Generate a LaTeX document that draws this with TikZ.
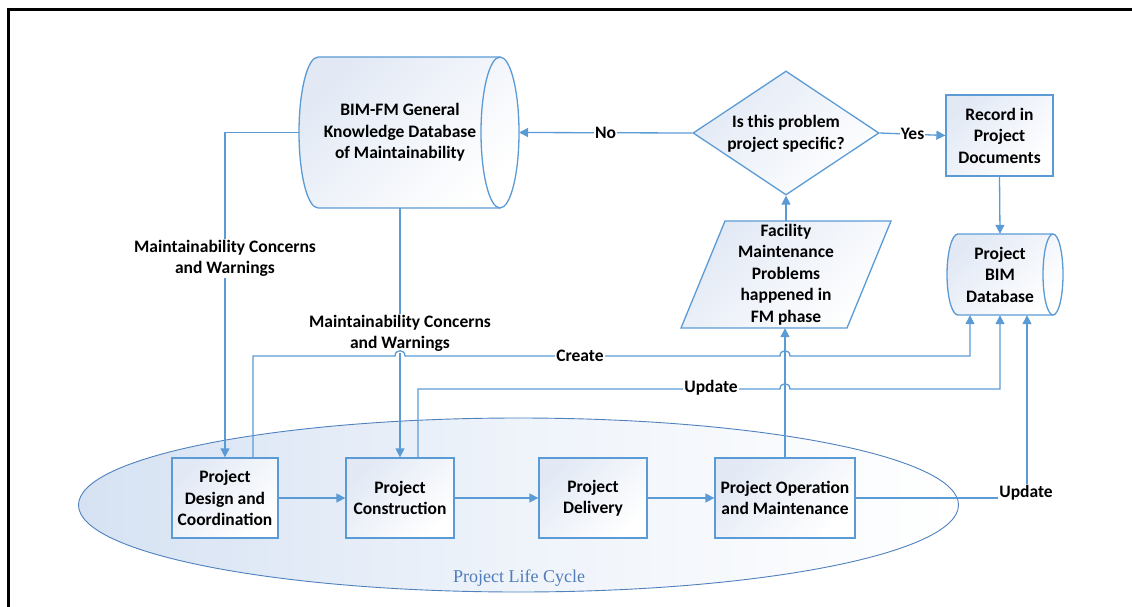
\documentclass[tikz,border=0pt]{standalone}
\usepackage{fontspec}
\setmainfont{Carlito}
\newfontfamily\plcfont{Liberation Serif}
\usetikzlibrary{arrows.meta,shapes.geometric,calc}
\definecolor{lc}{RGB}{91,155,213}
\definecolor{ec}{RGB}{79,129,189}
\definecolor{boxL}{RGB}{226,233,245}
\definecolor{ellL}{RGB}{214,226,243}
\definecolor{plc}{RGB}{80,124,187}
\begin{document}
\begin{tikzpicture}[x=1pt,y=-1pt,
  txt/.style={font=\fontsize{17.5pt}{21.5pt}\selectfont\bfseries, align=center, inner sep=0pt},
  box/.style={txt, draw=lc, line width=1.3pt, top color=boxL, bottom color=white, shading angle=45},
  shp/.style={draw=lc, line width=1.3pt, top color=boxL, bottom color=white, shading angle=45},
  con/.style={draw=lc, line width=1.3pt},
  arr/.style={con, -{Triangle[length=9pt,width=9pt]}},
  lab/.style={txt, fill=white, inner sep=1pt}]
\useasboundingbox (0,0) rectangle (1132,607);
% frame
\draw[black, line width=2.5pt] (8.5,607) -- (8.5,9.5) -- (1132,9.5);
% life cycle ellipse
\path[draw=ec, line width=0.9pt, left color=ellL, right color=white, middle color=ellL!40!white] (518.5,505) ellipse[x radius=440, y radius=87];
\node[font=\plcfont\fontsize{18pt}{20pt}\selectfont, text=plc] (plc) at (519,578) {Project Life Cycle};
% BIM-FM cylinder
\path[shp] (318,57) -- (500,57) arc[start angle=-90,end angle=90,x radius=19,y radius=75.5]
  -- (318,208) arc[start angle=90,end angle=270,x radius=19,y radius=75.5] -- cycle;
\draw[con] (500,57) arc[start angle=-90,end angle=-270,x radius=19,y radius=75.5];
\node[txt, minimum height=151pt] (kb) at (400,132.5) {BIM-FM General\\Knowledge Database\\of Maintainability};
\coordinate (kbW) at (299,132.5);
\coordinate (kbE) at (519,132.5);
% project BIM database cylinder
\path[shp] (958,234) -- (1053,234) arc[start angle=-90,end angle=90,x radius=10,y radius=40.5]
  -- (958,315) arc[start angle=90,end angle=270,x radius=11,y radius=40.5] -- cycle;
\draw[con] (1053,234) arc[start angle=-90,end angle=-270,x radius=10,y radius=40.5];
\node[txt, minimum height=81pt] (db) at (1000,274.5) {Project\\BIM\\Database};
% decision diamond
\node[shp, diamond, minimum width=186pt, minimum height=124pt, inner sep=0pt] (dia) at (786,133) {};
\node[txt] (diat) at (786,134) {Is this problem\\project specific?};
% record
\node[box, minimum width=107pt, minimum height=81pt] (rec) at (999.5,135.5) {Record in\\Project\\Documents};
% parallelogram
\path[shp] (681,328) -- (847,328) -- (891,221) -- (725,221) -- cycle;
\node[txt, minimum height=107pt] (fm) at (786,274.5) {Facility\\Maintenance\\Problems\\happened in\\FM phase};
% life cycle boxes
\node[box, minimum width=106pt, minimum height=80pt] (b1) at (225,498) {Project\\Design and\\Coordination};
\node[box, minimum width=108pt, minimum height=80pt] (b2) at (400,498) {Project\\Construction};
\node[box, minimum width=108pt, minimum height=80pt] (b3) at (593,498) {Project\\Delivery};
\node[box, minimum width=140pt, minimum height=80pt] (b4) at (785,498) {Project Operation\\and Maintenance};
% connectors
\draw[arr] (b1.east) -- (b2.west);
\draw[arr] (b2.east) -- (b3.west);
\draw[arr] (b3.east) -- (b4.west);
\draw[arr] (kbW) -| (b1.north);
\node[lab] (l1) at (225,258.5) {Maintainability Concerns\\and Warnings};
\draw[arr] (kb.south) -- (b2.north);
\node[lab] (l2) at (400,333.5) {Maintainability Concerns\\and Warnings};
\draw[arr] ([xshift=28pt]b1.north) |- (395,356) .. controls (395,349) and (405,349) .. (405,356)
  -- (780,356) .. controls (780,349) and (790,349) .. (790,356) -| ([xshift=-30pt]db.south);
\node[lab] (l3) at (580,356) {Create};
\draw[arr] ([xshift=18pt]b2.north) |- (780,389) .. controls (780,382) and (790,382) .. (790,389) -| (db.south);
\node[lab] (l4) at (711,388) {Update};
\draw[arr] (b4.north) -- (b4.north |- fm.south);
\draw[arr] (fm.north) -- (dia.south);
\draw[arr] (dia.west) -- node[lab]{No} (kbE);
\draw[arr] (dia.east) -- node[lab]{Yes} (rec.west);
\draw[arr] (rec.south) -- (db.north);
\draw[arr] (b4.east) -| ([xshift=27pt]db.south);
\node[lab] (l5) at (1026,493) {Update};
\end{tikzpicture}
\end{document}
